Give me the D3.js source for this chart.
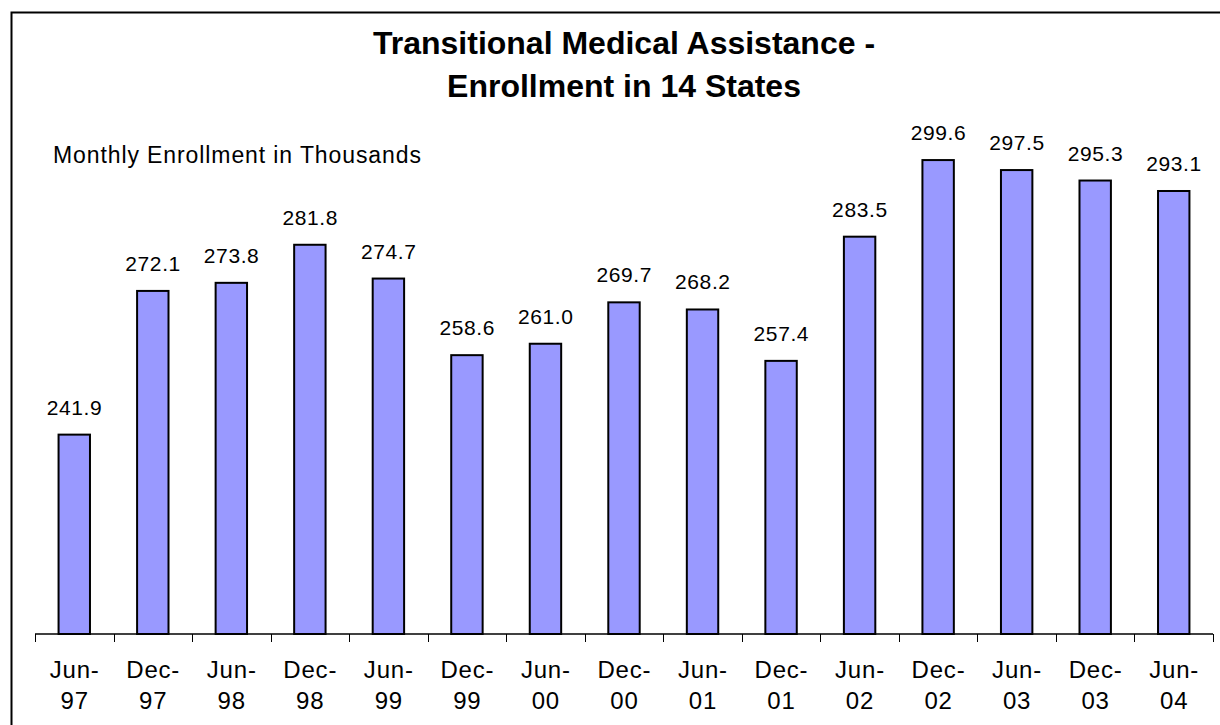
<!DOCTYPE html>
<html>
<head>
<meta charset="utf-8">
<script src="https://cdn.jsdelivr.net/npm/d3@7"></script>
<style>
  html, body { margin: 0; padding: 0; background: #fff; }
  svg { display: block; font-family: "Liberation Sans", Arial, sans-serif; }
</style>
</head>
<body>
<svg id="chart" width="1220" height="725"></svg>
<script>
const categories = ["Jun-97","Dec-97","Jun-98","Dec-98","Jun-99","Dec-99","Jun-00","Dec-00","Jun-01","Dec-01","Jun-02","Dec-02","Jun-03","Dec-03","Jun-04"];
const values = [241.9, 272.1, 273.8, 281.8, 274.7, 258.6, 261.0, 269.7, 268.2, 257.4, 283.5, 299.6, 297.5, 295.3, 293.1];
const titleLines = ["Transitional Medical Assistance -", "Enrollment in 14 States"];
const subtitle = "Monthly Enrollment in Thousands";
const yDomain = [200, 320];

const svg = d3.select("#chart");

// outer border
svg.append("rect")
  .attr("x", 11.5).attr("y", 12.5)
  .attr("width", 1230).attr("height", 730)
  .attr("fill", "none").attr("stroke", "#000").attr("stroke-width", 2);

const x = d3.scaleBand()
  .domain(categories)
  .range([35, 1213])
  .paddingInner(0.6)
  .paddingOuter(0.3);

const y = d3.scaleLinear().domain(yDomain).range([634, 63]);

const step = x.step();
const bw = x.bandwidth();

// bars
svg.append("g").selectAll("rect")
  .data(values)
  .join("rect")
  .attr("x", (d, i) => x(categories[i]))
  .attr("y", d => y(d))
  .attr("width", bw)
  .attr("height", d => y(yDomain[0]) - y(d))
  .attr("fill", "#9999FF")
  .attr("stroke", "#000")
  .attr("stroke-width", 2);

// value labels
svg.append("g").selectAll("text")
  .data(values)
  .join("text")
  .attr("x", (d, i) => x(categories[i]) + bw / 2 + 0.3)
  .attr("y", d => y(d) - 20)
  .attr("text-anchor", "middle")
  .attr("font-size", 21)
  .attr("letter-spacing", 0.6)
  .attr("fill", "#000")
  .text(d => d.toFixed(1));

// x axis line
const axisY = y(yDomain[0]);
const g = svg.append("g");
g.append("line")
  .attr("x1", x.range()[0]).attr("x2", x.range()[1])
  .attr("y1", axisY).attr("y2", axisY)
  .attr("stroke", "#000").attr("stroke-width", 1.5);

// ticks between categories
const bounds = categories.map(c => x(c) - (step - bw) / 2).concat([x(categories[categories.length - 1]) + bw + (step - bw) / 2]);
g.selectAll("line.tick")
  .data(bounds)
  .join("line")
  .attr("class", "tick")
  .attr("x1", d => Math.round(d) + 0.5).attr("x2", d => Math.round(d) + 0.5)
  .attr("y1", axisY).attr("y2", axisY + 8)
  .attr("stroke", "#000").attr("stroke-width", 1);

// category labels (two lines)
const lbl = g.selectAll("text.cat")
  .data(categories)
  .join("text")
  .attr("class", "cat")
  .attr("text-anchor", "middle")
  .attr("font-size", 24)
  .attr("letter-spacing", 0.8)
  .attr("fill", "#000");
lbl.each(function(c) {
  const parts = c.split("-");
  const cx = x(c) + bw / 2 + 0.4;
  const t = d3.select(this);
  t.append("tspan").attr("x", cx).attr("y", 678).text(parts[0] + "-");
  t.append("tspan").attr("x", cx).attr("y", 709).text(parts[1]);
});

// title
svg.append("text")
  .attr("text-anchor", "middle")
  .attr("font-size", 32)
  .attr("font-weight", "bold")
  .attr("fill", "#000")
  .selectAll("tspan")
  .data(titleLines)
  .join("tspan")
  .attr("x", 624)
  .attr("y", (d, i) => 54 + i * 43)
  .text(d => d);

// subtitle
svg.append("text")
  .attr("x", 53).attr("y", 163)
  .attr("font-size", 23)
  .attr("letter-spacing", 0.9)
  .attr("fill", "#000")
  .text(subtitle);
</script>
</body>
</html>
